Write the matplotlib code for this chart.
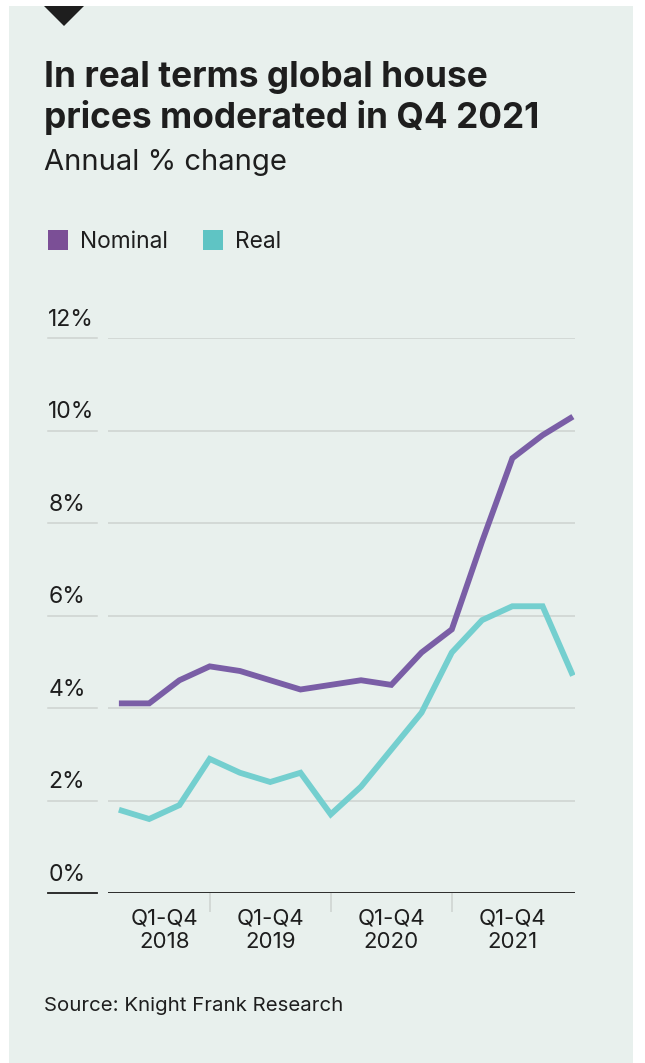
import matplotlib
matplotlib.use("Agg")
import matplotlib.pyplot as plt
import matplotlib.patches as patches
import matplotlib.transforms as mtransforms

# data: global house price growth, annual % change, Q1 2018 .. Q4 2021
quarters = list(range(16))
nominal = [4.1, 4.1, 4.6, 4.9, 4.8, 4.6, 4.4, 4.5, 4.6, 4.5, 5.2, 5.7, 7.6, 9.4, 9.9, 10.3]
real = [1.8, 1.6, 1.9, 2.9, 2.6, 2.4, 2.6, 1.7, 2.3, 3.1, 3.9, 5.2, 5.9, 6.2, 6.2, 4.7]
y_ticks = [0, 2, 4, 6, 8, 10, 12]
y_labels = ["0%", "2%", "4%", "6%", "8%", "10%", "12%"]
year_labels = ["Q1-Q4\n2018", "Q1-Q4\n2019", "Q1-Q4\n2020", "Q1-Q4\n2021"]
year_label_pos = [1.5, 5, 9, 13]
year_breaks = [3, 7, 11]

W, H = 645, 1063
bg = "#e8f0ed"
purple = "#7a5ea6"
teal = "#74cfcf"
dark = "#1e1e1e"
grid_col = "#cdd3d0"

plt.rcParams['font.family'] = ['Inter', 'DejaVu Sans']

fig = plt.figure(figsize=(W / 100, H / 100), dpi=100)
fig.patch.set_facecolor("white")


def fx(px):
    return px / W


def fy(py):
    return 1 - py / H


# panel and the little triangle marker
fig.patches.append(patches.Rectangle((fx(9), -0.01), fx(633) - fx(9), fy(6) + 0.01, transform=fig.transFigure,
                                     facecolor=bg, edgecolor="none", zorder=-2))
fig.patches.append(patches.Polygon([(fx(44), fy(6)), (fx(84), fy(6)), (fx(64), fy(26))], closed=True,
                                   transform=fig.transFigure, facecolor=dark, edgecolor="none", zorder=-1))

fig.text(fx(44), fy(87), "In real terms global house", fontsize=25.4, fontweight="bold", color=dark, va="baseline")
fig.text(fx(44), fy(128), "prices moderated in Q4 2021", fontsize=25.4, fontweight="bold", color=dark, va="baseline")
fig.text(fx(44), fy(170), "Annual % change", fontsize=21, color=dark, va="baseline")

# legend
fig.patches.append(patches.Rectangle((fx(48), fy(250)), fx(20), 20 / H, transform=fig.transFigure,
                                     facecolor="#7b4f96", edgecolor="none", zorder=-1))
fig.text(fx(80), fy(242), "Nominal", fontsize=16.4, color=dark, va="center")
fig.patches.append(patches.Rectangle((fx(203), fy(250)), fx(20), 20 / H, transform=fig.transFigure,
                                     facecolor="#5fc4c4", edgecolor="none", zorder=-1))
fig.text(fx(235), fy(242), "Real", fontsize=16.4, color=dark, va="center")

fig.text(fx(44), fy(1011), "Source: Knight Frank Research", fontsize=14.7, color=dark, va="baseline")

ax = fig.add_axes([fx(108), fy(893), fx(575) - fx(108), fy(338) - fy(893)])
ax.set_zorder(2)
ax.set_facecolor("none")
ax.plot(quarters, nominal, color=purple, lw=4.2, solid_joinstyle="miter", solid_capstyle="butt", zorder=3)
ax.plot(quarters, real, color=teal, lw=4.2, solid_joinstyle="miter", solid_capstyle="butt", zorder=3)

ax.set_xlim(-0.36, 15.07)
ax.set_ylim(0, 12)
for s in ax.spines.values():
    s.set_visible(False)
ax.set_yticks(y_ticks)
ax.set_yticklabels([])
ax.tick_params(axis="y", length=0)
ax.grid(axis="y", color=grid_col, lw=1.1)
ax.grid(axis="x", visible=False)
ax.axhline(0, color=dark, lw=1.3, zorder=4)

# short rule under each y label, left of the plot
trans = mtransforms.blended_transform_factory(ax.transAxes, ax.transData)
for v, lab in zip(y_ticks, y_labels):
    c = dark if v == 0 else grid_col
    ax.plot([-0.128, -0.0236], [v, v], transform=trans, color=c, lw=1.3 if v == 0 else 1.1, clip_on=False)
    ax.text(-0.128, v + 0.26, lab, transform=trans, fontsize=16.5, color=dark, va="baseline", ha="left")

# year separators and labels
ax.set_xticks(year_breaks)
ax.set_xticklabels([])
ax.tick_params(axis="x", length=14, width=1.1, color=grid_col, direction="out")
ax.set_xticks(year_label_pos, minor=True)
ax.set_xticklabels(year_labels, minor=True, fontsize=16, color=dark, linespacing=1.22)
ax.tick_params(axis="x", which="minor", length=0, pad=11)

fig.savefig("out.png", dpi=100, facecolor=fig.get_facecolor())
